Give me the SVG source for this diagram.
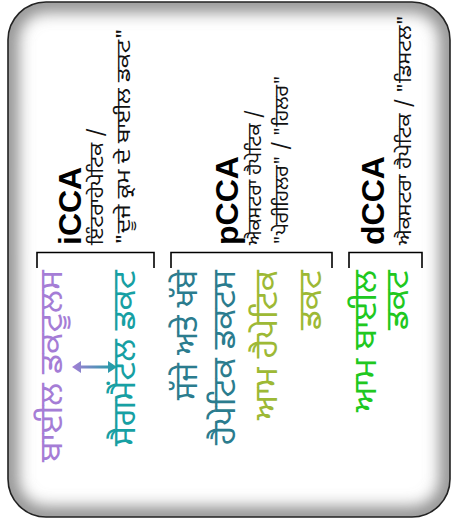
<svg xmlns="http://www.w3.org/2000/svg" width="452" height="522" viewBox="0 0 452 522">
<style>
.g{font-family:"Noto Sans Gurmukhi","Lohit Gurmukhi","Noto Sans",sans-serif}
.h{font-family:"Liberation Sans",Arial,sans-serif;font-weight:bold;font-size:32px;fill:#000}
.s{font-size:19px;fill:#111}
.b{font-size:32px}
.br{fill:none;stroke:#000;stroke-width:1.6}
</style>
<defs>
<clipPath id="c"><rect x="8" y="2" width="442" height="515" rx="38"/></clipPath>
<filter id="bl" x="-10%" y="-10%" width="120%" height="120%"><feGaussianBlur stdDeviation="8"/></filter>
<linearGradient id="ag" gradientUnits="userSpaceOnUse" x1="72" y1="0" x2="117" y2="0"><stop offset="0" stop-color="#a57dd6"/><stop offset="1" stop-color="#17a0a3"/></linearGradient>
</defs>
<g id="frame">
<rect x="8" y="2" width="442" height="515" rx="38" fill="#fff"/>
<g clip-path="url(#c)"><rect x="8" y="2" width="442" height="515" rx="38" fill="none" stroke="#8a8a8a" stroke-width="20" filter="url(#bl)"/></g>
<rect x="8" y="2" width="442" height="515" rx="38" fill="none" stroke="#222" stroke-width="1.6"/>
</g>
<g id="iCCA">
<text class="h" transform="translate(81,245) rotate(-90)">iCCA</text>
<text class="g s" textLength="117" lengthAdjust="spacingAndGlyphs" transform="translate(103,245) rotate(-90)">ਇੰਟਰਾਹੇਪੇਟਿਕ /</text>
<text class="g s" textLength="217" lengthAdjust="spacingAndGlyphs" transform="translate(130,245) rotate(-90)">"ਦੂਜੇ ਕ੍ਰਮ ਦੇ ਬਾਈਲ ਡਕਟ"</text>
</g>
<g id="pCCA">
<text class="h" transform="translate(238,245) rotate(-90)">pCCA</text>
<text class="g s" textLength="135" lengthAdjust="spacingAndGlyphs" transform="translate(261,245) rotate(-90)">ਐਕਸਟਰਾ ਹੈਪੇਟਿਕ /</text>
<text class="g s" textLength="170" lengthAdjust="spacingAndGlyphs" transform="translate(288,245) rotate(-90)">"ਪੇਰੀਹਿਲਰ" / "ਹਿਲਰ"</text>
</g>
<g id="dCCA">
<text class="h" transform="translate(384,245) rotate(-90)">dCCA</text>
<text class="g s" textLength="230" lengthAdjust="spacingAndGlyphs" transform="translate(411,245) rotate(-90)">ਐਕਸਟਰਾ ਹੈਪੇਟਿਕ / "ਡਿਸਟਲ"</text>
</g>
<g id="brackets">
<path class="br" d="M37,268V252.5H154V268"/>
<path class="br" d="M171,268V252.5H332V268"/>
<path class="br" d="M349,268V252.5H422V268"/>
</g>
<g id="bile-ductules">
<text class="g b" fill="#a57dd6" text-anchor="end" textLength="192" lengthAdjust="spacingAndGlyphs" transform="translate(62,270) rotate(-90)">ਬਾਈਲ ਡਕਟੂਲਸ</text>
</g>
<g id="segmental-ducts">
<text class="g b" fill="#17a0a3" text-anchor="end" textLength="176" lengthAdjust="spacingAndGlyphs" transform="translate(135,270) rotate(-90)">ਸੈਗਮੈਂਟਲ ਡਕਟ</text>
</g>
<g id="hepatic-ducts">
<text class="g b" fill="#2b7c8e" text-anchor="end" textLength="130" lengthAdjust="spacingAndGlyphs" transform="translate(197,270) rotate(-90)">ਸੱਜੇ ਅਤੇ ਖੱਬੇ</text>
<text class="g b" fill="#2b7c8e" text-anchor="end" textLength="175" lengthAdjust="spacingAndGlyphs" transform="translate(235,270) rotate(-90)">ਹੈਪੇਟਿਕ ਡਕਟਸ</text>
</g>
<g id="common-hepatic-duct">
<text class="g b" fill="#9db935" text-anchor="end" textLength="150" lengthAdjust="spacingAndGlyphs" transform="translate(277,270) rotate(-90)">ਆਮ ਹੈਪੇਟਿਕ</text>
<text class="g b" fill="#9db935" text-anchor="end" textLength="60" lengthAdjust="spacingAndGlyphs" transform="translate(321,270) rotate(-90)">ਡਕਟ</text>
</g>
<g id="common-bile-duct">
<text class="g b" fill="#20c820" text-anchor="end" textLength="142" lengthAdjust="spacingAndGlyphs" transform="translate(376,270) rotate(-90)">ਆਮ ਬਾਈਲ</text>
<text class="g b" fill="#20c820" text-anchor="end" textLength="60" lengthAdjust="spacingAndGlyphs" transform="translate(408,270) rotate(-90)">ਡਕਟ</text>
</g>
<g id="connectors">
<path fill="url(#ag)" d="M72,367L81,361V365.5H108V361L117,367L108,373V368.5H81V373Z"/>
</g>
</svg>
